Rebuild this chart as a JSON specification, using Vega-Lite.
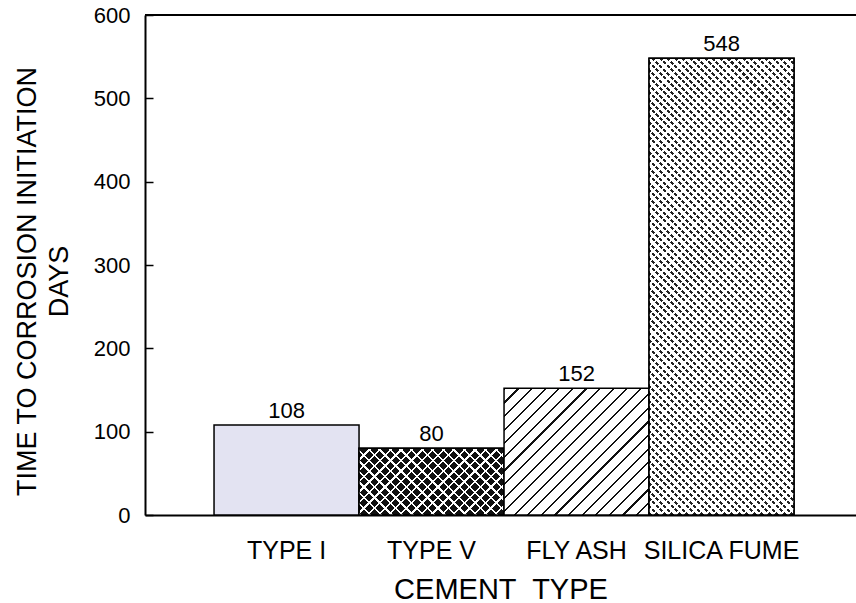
{
  "$schema": "https://vega.github.io/schema/vega-lite/v6.json",
  "width": 711,
  "height": 500,
  "autosize": {"type": "none"},
  "padding": {"left": 145, "top": 15, "right": 0, "bottom": 88},
  "background": "white",
  "config": {
    "font": "Liberation Sans",
    "view": {"stroke": null}
  },
  "data": {
    "values": [
      {"cement": "TYPE I", "days": 108},
      {"cement": "TYPE V", "days": 80},
      {"cement": "FLY ASH", "days": 152},
      {"cement": "SILICA FUME", "days": 548}
    ]
  },
  "layer": [
    {
      "encoding": {
        "x": {
          "field": "cement",
          "type": "nominal",
          "scale": {
            "domain": ["TYPE I", "TYPE V", "FLY ASH", "SILICA FUME"],
            "paddingInner": 0,
            "paddingOuter": 0.4517,
            "align": 0.527
          },
          "axis": {
            "title": "CEMENT\u00a0 TYPE",
            "titleFontSize": 29,
            "titleFontWeight": "normal",
            "titleColor": "black",
            "titleBaseline": "top",
            "titleY": 60,
            "labelAngle": 0,
            "labelFontSize": 25,
            "labelColor": "black",
            "labelPadding": 23,
            "ticks": false,
            "domainColor": "black",
            "domainWidth": 2
          }
        },
        "y": {
          "field": "days",
          "type": "quantitative",
          "scale": {"domain": [0, 600], "nice": false},
          "axis": {
            "values": [0, 100, 200, 300, 400, 500, 600],
            "grid": false,
            "title": ["TIME TO CORROSION INITIATION", "DAYS"],
            "titleFontSize": 27,
            "titleFontWeight": "normal",
            "titleColor": "black",
            "titleAngle": -90,
            "titleAlign": "center",
            "titleBaseline": "alphabetic",
            "titleLineHeight": 32,
            "titleX": -110,
            "titleY": 266,
            "labelFontSize": 22,
            "labelColor": "black",
            "labelPadding": 23,
            "tickSize": -8,
            "tickColor": "black",
            "tickWidth": 1.5,
            "domainColor": "black",
            "domainWidth": 2
          }
        }
      },
      "layer": [
        {
          "transform": [{"filter": "datum.cement === 'TYPE I'"}],
          "mark": {"type": "bar", "fill": "#e3e3f2", "stroke": "black", "strokeWidth": 1.5}
        },
        {
          "transform": [{"filter": "datum.cement === 'TYPE V'"}],
          "mark": {
            "type": "bar",
            "stroke": "black",
            "strokeWidth": 1.5,
            "fill": {
              "gradient": "linear", "x1": 0, "y1": 0, "x2": 1.205, "y2": 0.554,
              "stops": [
                {"offset": 0, "color": "#fff"}, {"offset": 0.011, "color": "#fff"}, {"offset": 0.011, "color": "#111"}, {"offset": 0.05, "color": "#111"},
                {"offset": 0.05, "color": "#fff"}, {"offset": 0.061, "color": "#fff"}, {"offset": 0.061, "color": "#111"}, {"offset": 0.1, "color": "#111"},
                {"offset": 0.1, "color": "#fff"}, {"offset": 0.111, "color": "#fff"}, {"offset": 0.111, "color": "#111"}, {"offset": 0.15, "color": "#111"},
                {"offset": 0.15, "color": "#fff"}, {"offset": 0.161, "color": "#fff"}, {"offset": 0.161, "color": "#111"}, {"offset": 0.2, "color": "#111"},
                {"offset": 0.2, "color": "#fff"}, {"offset": 0.211, "color": "#fff"}, {"offset": 0.211, "color": "#111"}, {"offset": 0.25, "color": "#111"},
                {"offset": 0.25, "color": "#fff"}, {"offset": 0.261, "color": "#fff"}, {"offset": 0.261, "color": "#111"}, {"offset": 0.3, "color": "#111"},
                {"offset": 0.3, "color": "#fff"}, {"offset": 0.311, "color": "#fff"}, {"offset": 0.311, "color": "#111"}, {"offset": 0.35, "color": "#111"},
                {"offset": 0.35, "color": "#fff"}, {"offset": 0.361, "color": "#fff"}, {"offset": 0.361, "color": "#111"}, {"offset": 0.4, "color": "#111"},
                {"offset": 0.4, "color": "#fff"}, {"offset": 0.411, "color": "#fff"}, {"offset": 0.411, "color": "#111"}, {"offset": 0.45, "color": "#111"},
                {"offset": 0.45, "color": "#fff"}, {"offset": 0.461, "color": "#fff"}, {"offset": 0.461, "color": "#111"}, {"offset": 0.5, "color": "#111"},
                {"offset": 0.5, "color": "#fff"}, {"offset": 0.511, "color": "#fff"}, {"offset": 0.511, "color": "#111"}, {"offset": 0.55, "color": "#111"},
                {"offset": 0.55, "color": "#fff"}, {"offset": 0.561, "color": "#fff"}, {"offset": 0.561, "color": "#111"}, {"offset": 0.6, "color": "#111"},
                {"offset": 0.6, "color": "#fff"}, {"offset": 0.611, "color": "#fff"}, {"offset": 0.611, "color": "#111"}, {"offset": 0.65, "color": "#111"},
                {"offset": 0.65, "color": "#fff"}, {"offset": 0.661, "color": "#fff"}, {"offset": 0.661, "color": "#111"}, {"offset": 0.7, "color": "#111"},
                {"offset": 0.7, "color": "#fff"}, {"offset": 0.711, "color": "#fff"}, {"offset": 0.711, "color": "#111"}, {"offset": 0.75, "color": "#111"},
                {"offset": 0.75, "color": "#fff"}, {"offset": 0.761, "color": "#fff"}, {"offset": 0.761, "color": "#111"}, {"offset": 0.8, "color": "#111"},
                {"offset": 0.8, "color": "#fff"}, {"offset": 0.811, "color": "#fff"}, {"offset": 0.811, "color": "#111"}, {"offset": 0.85, "color": "#111"},
                {"offset": 0.85, "color": "#fff"}, {"offset": 0.861, "color": "#fff"}, {"offset": 0.861, "color": "#111"}, {"offset": 0.9, "color": "#111"},
                {"offset": 0.9, "color": "#fff"}, {"offset": 0.911, "color": "#fff"}, {"offset": 0.911, "color": "#111"}, {"offset": 0.95, "color": "#111"},
                {"offset": 0.95, "color": "#fff"}, {"offset": 0.961, "color": "#fff"}, {"offset": 0.961, "color": "#111"}, {"offset": 1, "color": "#111"}
              ]
            }
          }
        },
        {
          "transform": [{"filter": "datum.cement === 'TYPE V'"}],
          "mark": {
            "type": "bar",
            "stroke": "black",
            "strokeWidth": 1.5,
            "fill": {
              "gradient": "linear", "x1": 0, "y1": 1, "x2": 1.205, "y2": 0.446,
              "stops": [
                {"offset": 0, "color": "#fff"}, {"offset": 0.011, "color": "#fff"}, {"offset": 0.011, "color": "rgba(0,0,0,0)"}, {"offset": 0.05, "color": "rgba(0,0,0,0)"},
                {"offset": 0.05, "color": "#fff"}, {"offset": 0.061, "color": "#fff"}, {"offset": 0.061, "color": "rgba(0,0,0,0)"}, {"offset": 0.1, "color": "rgba(0,0,0,0)"},
                {"offset": 0.1, "color": "#fff"}, {"offset": 0.111, "color": "#fff"}, {"offset": 0.111, "color": "rgba(0,0,0,0)"}, {"offset": 0.15, "color": "rgba(0,0,0,0)"},
                {"offset": 0.15, "color": "#fff"}, {"offset": 0.161, "color": "#fff"}, {"offset": 0.161, "color": "rgba(0,0,0,0)"}, {"offset": 0.2, "color": "rgba(0,0,0,0)"},
                {"offset": 0.2, "color": "#fff"}, {"offset": 0.211, "color": "#fff"}, {"offset": 0.211, "color": "rgba(0,0,0,0)"}, {"offset": 0.25, "color": "rgba(0,0,0,0)"},
                {"offset": 0.25, "color": "#fff"}, {"offset": 0.261, "color": "#fff"}, {"offset": 0.261, "color": "rgba(0,0,0,0)"}, {"offset": 0.3, "color": "rgba(0,0,0,0)"},
                {"offset": 0.3, "color": "#fff"}, {"offset": 0.311, "color": "#fff"}, {"offset": 0.311, "color": "rgba(0,0,0,0)"}, {"offset": 0.35, "color": "rgba(0,0,0,0)"},
                {"offset": 0.35, "color": "#fff"}, {"offset": 0.361, "color": "#fff"}, {"offset": 0.361, "color": "rgba(0,0,0,0)"}, {"offset": 0.4, "color": "rgba(0,0,0,0)"},
                {"offset": 0.4, "color": "#fff"}, {"offset": 0.411, "color": "#fff"}, {"offset": 0.411, "color": "rgba(0,0,0,0)"}, {"offset": 0.45, "color": "rgba(0,0,0,0)"},
                {"offset": 0.45, "color": "#fff"}, {"offset": 0.461, "color": "#fff"}, {"offset": 0.461, "color": "rgba(0,0,0,0)"}, {"offset": 0.5, "color": "rgba(0,0,0,0)"},
                {"offset": 0.5, "color": "#fff"}, {"offset": 0.511, "color": "#fff"}, {"offset": 0.511, "color": "rgba(0,0,0,0)"}, {"offset": 0.55, "color": "rgba(0,0,0,0)"},
                {"offset": 0.55, "color": "#fff"}, {"offset": 0.561, "color": "#fff"}, {"offset": 0.561, "color": "rgba(0,0,0,0)"}, {"offset": 0.6, "color": "rgba(0,0,0,0)"},
                {"offset": 0.6, "color": "#fff"}, {"offset": 0.611, "color": "#fff"}, {"offset": 0.611, "color": "rgba(0,0,0,0)"}, {"offset": 0.65, "color": "rgba(0,0,0,0)"},
                {"offset": 0.65, "color": "#fff"}, {"offset": 0.661, "color": "#fff"}, {"offset": 0.661, "color": "rgba(0,0,0,0)"}, {"offset": 0.7, "color": "rgba(0,0,0,0)"},
                {"offset": 0.7, "color": "#fff"}, {"offset": 0.711, "color": "#fff"}, {"offset": 0.711, "color": "rgba(0,0,0,0)"}, {"offset": 0.75, "color": "rgba(0,0,0,0)"},
                {"offset": 0.75, "color": "#fff"}, {"offset": 0.761, "color": "#fff"}, {"offset": 0.761, "color": "rgba(0,0,0,0)"}, {"offset": 0.8, "color": "rgba(0,0,0,0)"},
                {"offset": 0.8, "color": "#fff"}, {"offset": 0.811, "color": "#fff"}, {"offset": 0.811, "color": "rgba(0,0,0,0)"}, {"offset": 0.85, "color": "rgba(0,0,0,0)"},
                {"offset": 0.85, "color": "#fff"}, {"offset": 0.861, "color": "#fff"}, {"offset": 0.861, "color": "rgba(0,0,0,0)"}, {"offset": 0.9, "color": "rgba(0,0,0,0)"},
                {"offset": 0.9, "color": "#fff"}, {"offset": 0.911, "color": "#fff"}, {"offset": 0.911, "color": "rgba(0,0,0,0)"}, {"offset": 0.95, "color": "rgba(0,0,0,0)"},
                {"offset": 0.95, "color": "#fff"}, {"offset": 0.961, "color": "#fff"}, {"offset": 0.961, "color": "rgba(0,0,0,0)"}, {"offset": 1, "color": "rgba(0,0,0,0)"}
              ]
            }
          }
        },
        {
          "transform": [{"filter": "datum.cement === 'FLY ASH'"}],
          "mark": {
            "type": "bar",
            "stroke": "black",
            "strokeWidth": 1.5,
            "fill": {
              "gradient": "linear", "x1": 0, "y1": 0, "x2": 1.0625, "y2": 0.9284,
              "stops": [
                {"offset": 0, "color": "#111"}, {"offset": 0.008, "color": "#111"}, {"offset": 0.008, "color": "#fff"}, {"offset": 0.05, "color": "#fff"},
                {"offset": 0.05, "color": "#111"}, {"offset": 0.058, "color": "#111"}, {"offset": 0.058, "color": "#fff"}, {"offset": 0.1, "color": "#fff"},
                {"offset": 0.1, "color": "#111"}, {"offset": 0.108, "color": "#111"}, {"offset": 0.108, "color": "#fff"}, {"offset": 0.15, "color": "#fff"},
                {"offset": 0.15, "color": "#111"}, {"offset": 0.158, "color": "#111"}, {"offset": 0.158, "color": "#fff"}, {"offset": 0.2, "color": "#fff"},
                {"offset": 0.2, "color": "#111"}, {"offset": 0.208, "color": "#111"}, {"offset": 0.208, "color": "#fff"}, {"offset": 0.25, "color": "#fff"},
                {"offset": 0.25, "color": "#111"}, {"offset": 0.258, "color": "#111"}, {"offset": 0.258, "color": "#fff"}, {"offset": 0.3, "color": "#fff"},
                {"offset": 0.3, "color": "#111"}, {"offset": 0.308, "color": "#111"}, {"offset": 0.308, "color": "#fff"}, {"offset": 0.35, "color": "#fff"},
                {"offset": 0.35, "color": "#111"}, {"offset": 0.358, "color": "#111"}, {"offset": 0.358, "color": "#fff"}, {"offset": 0.4, "color": "#fff"},
                {"offset": 0.4, "color": "#111"}, {"offset": 0.408, "color": "#111"}, {"offset": 0.408, "color": "#fff"}, {"offset": 0.45, "color": "#fff"},
                {"offset": 0.45, "color": "#111"}, {"offset": 0.458, "color": "#111"}, {"offset": 0.458, "color": "#fff"}, {"offset": 0.5, "color": "#fff"},
                {"offset": 0.5, "color": "#111"}, {"offset": 0.508, "color": "#111"}, {"offset": 0.508, "color": "#fff"}, {"offset": 0.55, "color": "#fff"},
                {"offset": 0.55, "color": "#111"}, {"offset": 0.558, "color": "#111"}, {"offset": 0.558, "color": "#fff"}, {"offset": 0.6, "color": "#fff"},
                {"offset": 0.6, "color": "#111"}, {"offset": 0.608, "color": "#111"}, {"offset": 0.608, "color": "#fff"}, {"offset": 0.65, "color": "#fff"},
                {"offset": 0.65, "color": "#111"}, {"offset": 0.658, "color": "#111"}, {"offset": 0.658, "color": "#fff"}, {"offset": 0.7, "color": "#fff"},
                {"offset": 0.7, "color": "#111"}, {"offset": 0.708, "color": "#111"}, {"offset": 0.708, "color": "#fff"}, {"offset": 0.75, "color": "#fff"},
                {"offset": 0.75, "color": "#111"}, {"offset": 0.758, "color": "#111"}, {"offset": 0.758, "color": "#fff"}, {"offset": 0.8, "color": "#fff"},
                {"offset": 0.8, "color": "#111"}, {"offset": 0.808, "color": "#111"}, {"offset": 0.808, "color": "#fff"}, {"offset": 0.85, "color": "#fff"},
                {"offset": 0.85, "color": "#111"}, {"offset": 0.858, "color": "#111"}, {"offset": 0.858, "color": "#fff"}, {"offset": 0.9, "color": "#fff"},
                {"offset": 0.9, "color": "#111"}, {"offset": 0.908, "color": "#111"}, {"offset": 0.908, "color": "#fff"}, {"offset": 0.95, "color": "#fff"},
                {"offset": 0.95, "color": "#111"}, {"offset": 0.958, "color": "#111"}, {"offset": 0.958, "color": "#fff"}, {"offset": 1, "color": "#fff"}
              ]
            }
          }
        },
        {
          "transform": [{"filter": "datum.cement === 'SILICA FUME'"}],
          "mark": {
            "type": "bar",
            "stroke": "black",
            "strokeWidth": 1.5,
            "fill": {
              "gradient": "linear", "x1": 0, "y1": 1, "x2": 0.38, "y2": -0.1968,
              "stops": [
                {"offset": 0, "color": "#222"}, {"offset": 0.005, "color": "#222"}, {"offset": 0.005, "color": "#fff"}, {"offset": 0.0125, "color": "#fff"},
                {"offset": 0.0125, "color": "#222"}, {"offset": 0.0175, "color": "#222"}, {"offset": 0.0175, "color": "#fff"}, {"offset": 0.025, "color": "#fff"},
                {"offset": 0.025, "color": "#222"}, {"offset": 0.03, "color": "#222"}, {"offset": 0.03, "color": "#fff"}, {"offset": 0.0375, "color": "#fff"},
                {"offset": 0.0375, "color": "#222"}, {"offset": 0.0425, "color": "#222"}, {"offset": 0.0425, "color": "#fff"}, {"offset": 0.05, "color": "#fff"},
                {"offset": 0.05, "color": "#222"}, {"offset": 0.055, "color": "#222"}, {"offset": 0.055, "color": "#fff"}, {"offset": 0.0625, "color": "#fff"},
                {"offset": 0.0625, "color": "#222"}, {"offset": 0.0675, "color": "#222"}, {"offset": 0.0675, "color": "#fff"}, {"offset": 0.075, "color": "#fff"},
                {"offset": 0.075, "color": "#222"}, {"offset": 0.08, "color": "#222"}, {"offset": 0.08, "color": "#fff"}, {"offset": 0.0875, "color": "#fff"},
                {"offset": 0.0875, "color": "#222"}, {"offset": 0.0925, "color": "#222"}, {"offset": 0.0925, "color": "#fff"}, {"offset": 0.1, "color": "#fff"},
                {"offset": 0.1, "color": "#222"}, {"offset": 0.105, "color": "#222"}, {"offset": 0.105, "color": "#fff"}, {"offset": 0.1125, "color": "#fff"},
                {"offset": 0.1125, "color": "#222"}, {"offset": 0.1175, "color": "#222"}, {"offset": 0.1175, "color": "#fff"}, {"offset": 0.125, "color": "#fff"},
                {"offset": 0.125, "color": "#222"}, {"offset": 0.13, "color": "#222"}, {"offset": 0.13, "color": "#fff"}, {"offset": 0.1375, "color": "#fff"},
                {"offset": 0.1375, "color": "#222"}, {"offset": 0.1425, "color": "#222"}, {"offset": 0.1425, "color": "#fff"}, {"offset": 0.15, "color": "#fff"},
                {"offset": 0.15, "color": "#222"}, {"offset": 0.155, "color": "#222"}, {"offset": 0.155, "color": "#fff"}, {"offset": 0.1625, "color": "#fff"},
                {"offset": 0.1625, "color": "#222"}, {"offset": 0.1675, "color": "#222"}, {"offset": 0.1675, "color": "#fff"}, {"offset": 0.175, "color": "#fff"},
                {"offset": 0.175, "color": "#222"}, {"offset": 0.18, "color": "#222"}, {"offset": 0.18, "color": "#fff"}, {"offset": 0.1875, "color": "#fff"},
                {"offset": 0.1875, "color": "#222"}, {"offset": 0.1925, "color": "#222"}, {"offset": 0.1925, "color": "#fff"}, {"offset": 0.2, "color": "#fff"},
                {"offset": 0.2, "color": "#222"}, {"offset": 0.205, "color": "#222"}, {"offset": 0.205, "color": "#fff"}, {"offset": 0.2125, "color": "#fff"},
                {"offset": 0.2125, "color": "#222"}, {"offset": 0.2175, "color": "#222"}, {"offset": 0.2175, "color": "#fff"}, {"offset": 0.225, "color": "#fff"},
                {"offset": 0.225, "color": "#222"}, {"offset": 0.23, "color": "#222"}, {"offset": 0.23, "color": "#fff"}, {"offset": 0.2375, "color": "#fff"},
                {"offset": 0.2375, "color": "#222"}, {"offset": 0.2425, "color": "#222"}, {"offset": 0.2425, "color": "#fff"}, {"offset": 0.25, "color": "#fff"},
                {"offset": 0.25, "color": "#222"}, {"offset": 0.255, "color": "#222"}, {"offset": 0.255, "color": "#fff"}, {"offset": 0.2625, "color": "#fff"},
                {"offset": 0.2625, "color": "#222"}, {"offset": 0.2675, "color": "#222"}, {"offset": 0.2675, "color": "#fff"}, {"offset": 0.275, "color": "#fff"},
                {"offset": 0.275, "color": "#222"}, {"offset": 0.28, "color": "#222"}, {"offset": 0.28, "color": "#fff"}, {"offset": 0.2875, "color": "#fff"},
                {"offset": 0.2875, "color": "#222"}, {"offset": 0.2925, "color": "#222"}, {"offset": 0.2925, "color": "#fff"}, {"offset": 0.3, "color": "#fff"},
                {"offset": 0.3, "color": "#222"}, {"offset": 0.305, "color": "#222"}, {"offset": 0.305, "color": "#fff"}, {"offset": 0.3125, "color": "#fff"},
                {"offset": 0.3125, "color": "#222"}, {"offset": 0.3175, "color": "#222"}, {"offset": 0.3175, "color": "#fff"}, {"offset": 0.325, "color": "#fff"},
                {"offset": 0.325, "color": "#222"}, {"offset": 0.33, "color": "#222"}, {"offset": 0.33, "color": "#fff"}, {"offset": 0.3375, "color": "#fff"},
                {"offset": 0.3375, "color": "#222"}, {"offset": 0.3425, "color": "#222"}, {"offset": 0.3425, "color": "#fff"}, {"offset": 0.35, "color": "#fff"},
                {"offset": 0.35, "color": "#222"}, {"offset": 0.355, "color": "#222"}, {"offset": 0.355, "color": "#fff"}, {"offset": 0.3625, "color": "#fff"},
                {"offset": 0.3625, "color": "#222"}, {"offset": 0.3675, "color": "#222"}, {"offset": 0.3675, "color": "#fff"}, {"offset": 0.375, "color": "#fff"},
                {"offset": 0.375, "color": "#222"}, {"offset": 0.38, "color": "#222"}, {"offset": 0.38, "color": "#fff"}, {"offset": 0.3875, "color": "#fff"},
                {"offset": 0.3875, "color": "#222"}, {"offset": 0.3925, "color": "#222"}, {"offset": 0.3925, "color": "#fff"}, {"offset": 0.4, "color": "#fff"},
                {"offset": 0.4, "color": "#222"}, {"offset": 0.405, "color": "#222"}, {"offset": 0.405, "color": "#fff"}, {"offset": 0.4125, "color": "#fff"},
                {"offset": 0.4125, "color": "#222"}, {"offset": 0.4175, "color": "#222"}, {"offset": 0.4175, "color": "#fff"}, {"offset": 0.425, "color": "#fff"},
                {"offset": 0.425, "color": "#222"}, {"offset": 0.43, "color": "#222"}, {"offset": 0.43, "color": "#fff"}, {"offset": 0.4375, "color": "#fff"},
                {"offset": 0.4375, "color": "#222"}, {"offset": 0.4425, "color": "#222"}, {"offset": 0.4425, "color": "#fff"}, {"offset": 0.45, "color": "#fff"},
                {"offset": 0.45, "color": "#222"}, {"offset": 0.455, "color": "#222"}, {"offset": 0.455, "color": "#fff"}, {"offset": 0.4625, "color": "#fff"},
                {"offset": 0.4625, "color": "#222"}, {"offset": 0.4675, "color": "#222"}, {"offset": 0.4675, "color": "#fff"}, {"offset": 0.475, "color": "#fff"},
                {"offset": 0.475, "color": "#222"}, {"offset": 0.48, "color": "#222"}, {"offset": 0.48, "color": "#fff"}, {"offset": 0.4875, "color": "#fff"},
                {"offset": 0.4875, "color": "#222"}, {"offset": 0.4925, "color": "#222"}, {"offset": 0.4925, "color": "#fff"}, {"offset": 0.5, "color": "#fff"},
                {"offset": 0.5, "color": "#222"}, {"offset": 0.505, "color": "#222"}, {"offset": 0.505, "color": "#fff"}, {"offset": 0.5125, "color": "#fff"},
                {"offset": 0.5125, "color": "#222"}, {"offset": 0.5175, "color": "#222"}, {"offset": 0.5175, "color": "#fff"}, {"offset": 0.525, "color": "#fff"},
                {"offset": 0.525, "color": "#222"}, {"offset": 0.53, "color": "#222"}, {"offset": 0.53, "color": "#fff"}, {"offset": 0.5375, "color": "#fff"},
                {"offset": 0.5375, "color": "#222"}, {"offset": 0.5425, "color": "#222"}, {"offset": 0.5425, "color": "#fff"}, {"offset": 0.55, "color": "#fff"},
                {"offset": 0.55, "color": "#222"}, {"offset": 0.555, "color": "#222"}, {"offset": 0.555, "color": "#fff"}, {"offset": 0.5625, "color": "#fff"},
                {"offset": 0.5625, "color": "#222"}, {"offset": 0.5675, "color": "#222"}, {"offset": 0.5675, "color": "#fff"}, {"offset": 0.575, "color": "#fff"},
                {"offset": 0.575, "color": "#222"}, {"offset": 0.58, "color": "#222"}, {"offset": 0.58, "color": "#fff"}, {"offset": 0.5875, "color": "#fff"},
                {"offset": 0.5875, "color": "#222"}, {"offset": 0.5925, "color": "#222"}, {"offset": 0.5925, "color": "#fff"}, {"offset": 0.6, "color": "#fff"},
                {"offset": 0.6, "color": "#222"}, {"offset": 0.605, "color": "#222"}, {"offset": 0.605, "color": "#fff"}, {"offset": 0.6125, "color": "#fff"},
                {"offset": 0.6125, "color": "#222"}, {"offset": 0.6175, "color": "#222"}, {"offset": 0.6175, "color": "#fff"}, {"offset": 0.625, "color": "#fff"},
                {"offset": 0.625, "color": "#222"}, {"offset": 0.63, "color": "#222"}, {"offset": 0.63, "color": "#fff"}, {"offset": 0.6375, "color": "#fff"},
                {"offset": 0.6375, "color": "#222"}, {"offset": 0.6425, "color": "#222"}, {"offset": 0.6425, "color": "#fff"}, {"offset": 0.65, "color": "#fff"},
                {"offset": 0.65, "color": "#222"}, {"offset": 0.655, "color": "#222"}, {"offset": 0.655, "color": "#fff"}, {"offset": 0.6625, "color": "#fff"},
                {"offset": 0.6625, "color": "#222"}, {"offset": 0.6675, "color": "#222"}, {"offset": 0.6675, "color": "#fff"}, {"offset": 0.675, "color": "#fff"},
                {"offset": 0.675, "color": "#222"}, {"offset": 0.68, "color": "#222"}, {"offset": 0.68, "color": "#fff"}, {"offset": 0.6875, "color": "#fff"},
                {"offset": 0.6875, "color": "#222"}, {"offset": 0.6925, "color": "#222"}, {"offset": 0.6925, "color": "#fff"}, {"offset": 0.7, "color": "#fff"},
                {"offset": 0.7, "color": "#222"}, {"offset": 0.705, "color": "#222"}, {"offset": 0.705, "color": "#fff"}, {"offset": 0.7125, "color": "#fff"},
                {"offset": 0.7125, "color": "#222"}, {"offset": 0.7175, "color": "#222"}, {"offset": 0.7175, "color": "#fff"}, {"offset": 0.725, "color": "#fff"},
                {"offset": 0.725, "color": "#222"}, {"offset": 0.73, "color": "#222"}, {"offset": 0.73, "color": "#fff"}, {"offset": 0.7375, "color": "#fff"},
                {"offset": 0.7375, "color": "#222"}, {"offset": 0.7425, "color": "#222"}, {"offset": 0.7425, "color": "#fff"}, {"offset": 0.75, "color": "#fff"},
                {"offset": 0.75, "color": "#222"}, {"offset": 0.755, "color": "#222"}, {"offset": 0.755, "color": "#fff"}, {"offset": 0.7625, "color": "#fff"},
                {"offset": 0.7625, "color": "#222"}, {"offset": 0.7675, "color": "#222"}, {"offset": 0.7675, "color": "#fff"}, {"offset": 0.775, "color": "#fff"},
                {"offset": 0.775, "color": "#222"}, {"offset": 0.78, "color": "#222"}, {"offset": 0.78, "color": "#fff"}, {"offset": 0.7875, "color": "#fff"},
                {"offset": 0.7875, "color": "#222"}, {"offset": 0.7925, "color": "#222"}, {"offset": 0.7925, "color": "#fff"}, {"offset": 0.8, "color": "#fff"},
                {"offset": 0.8, "color": "#222"}, {"offset": 0.805, "color": "#222"}, {"offset": 0.805, "color": "#fff"}, {"offset": 0.8125, "color": "#fff"},
                {"offset": 0.8125, "color": "#222"}, {"offset": 0.8175, "color": "#222"}, {"offset": 0.8175, "color": "#fff"}, {"offset": 0.825, "color": "#fff"},
                {"offset": 0.825, "color": "#222"}, {"offset": 0.83, "color": "#222"}, {"offset": 0.83, "color": "#fff"}, {"offset": 0.8375, "color": "#fff"},
                {"offset": 0.8375, "color": "#222"}, {"offset": 0.8425, "color": "#222"}, {"offset": 0.8425, "color": "#fff"}, {"offset": 0.85, "color": "#fff"},
                {"offset": 0.85, "color": "#222"}, {"offset": 0.855, "color": "#222"}, {"offset": 0.855, "color": "#fff"}, {"offset": 0.8625, "color": "#fff"},
                {"offset": 0.8625, "color": "#222"}, {"offset": 0.8675, "color": "#222"}, {"offset": 0.8675, "color": "#fff"}, {"offset": 0.875, "color": "#fff"},
                {"offset": 0.875, "color": "#222"}, {"offset": 0.88, "color": "#222"}, {"offset": 0.88, "color": "#fff"}, {"offset": 0.8875, "color": "#fff"},
                {"offset": 0.8875, "color": "#222"}, {"offset": 0.8925, "color": "#222"}, {"offset": 0.8925, "color": "#fff"}, {"offset": 0.9, "color": "#fff"},
                {"offset": 0.9, "color": "#222"}, {"offset": 0.905, "color": "#222"}, {"offset": 0.905, "color": "#fff"}, {"offset": 0.9125, "color": "#fff"},
                {"offset": 0.9125, "color": "#222"}, {"offset": 0.9175, "color": "#222"}, {"offset": 0.9175, "color": "#fff"}, {"offset": 0.925, "color": "#fff"},
                {"offset": 0.925, "color": "#222"}, {"offset": 0.93, "color": "#222"}, {"offset": 0.93, "color": "#fff"}, {"offset": 0.9375, "color": "#fff"},
                {"offset": 0.9375, "color": "#222"}, {"offset": 0.9425, "color": "#222"}, {"offset": 0.9425, "color": "#fff"}, {"offset": 0.95, "color": "#fff"},
                {"offset": 0.95, "color": "#222"}, {"offset": 0.955, "color": "#222"}, {"offset": 0.955, "color": "#fff"}, {"offset": 0.9625, "color": "#fff"},
                {"offset": 0.9625, "color": "#222"}, {"offset": 0.9675, "color": "#222"}, {"offset": 0.9675, "color": "#fff"}, {"offset": 0.975, "color": "#fff"},
                {"offset": 0.975, "color": "#222"}, {"offset": 0.98, "color": "#222"}, {"offset": 0.98, "color": "#fff"}, {"offset": 0.9875, "color": "#fff"},
                {"offset": 0.9875, "color": "#222"}, {"offset": 0.9925, "color": "#222"}, {"offset": 0.9925, "color": "#fff"}, {"offset": 1, "color": "#fff"}
              ]
            }
          }
        },
        {
          "transform": [{"filter": "datum.cement === 'SILICA FUME'"}],
          "mark": {
            "type": "bar",
            "stroke": "black",
            "strokeWidth": 1.5,
            "fill": {
              "gradient": "linear", "x1": 0, "y1": 0, "x2": 0.38, "y2": 1.1968,
              "stops": [
                {"offset": 0, "color": "#fff"}, {"offset": 0.004, "color": "#fff"}, {"offset": 0.004, "color": "rgba(0,0,0,0)"}, {"offset": 0.0125, "color": "rgba(0,0,0,0)"},
                {"offset": 0.0125, "color": "#fff"}, {"offset": 0.0165, "color": "#fff"}, {"offset": 0.0165, "color": "rgba(0,0,0,0)"}, {"offset": 0.025, "color": "rgba(0,0,0,0)"},
                {"offset": 0.025, "color": "#fff"}, {"offset": 0.029, "color": "#fff"}, {"offset": 0.029, "color": "rgba(0,0,0,0)"}, {"offset": 0.0375, "color": "rgba(0,0,0,0)"},
                {"offset": 0.0375, "color": "#fff"}, {"offset": 0.0415, "color": "#fff"}, {"offset": 0.0415, "color": "rgba(0,0,0,0)"}, {"offset": 0.05, "color": "rgba(0,0,0,0)"},
                {"offset": 0.05, "color": "#fff"}, {"offset": 0.054, "color": "#fff"}, {"offset": 0.054, "color": "rgba(0,0,0,0)"}, {"offset": 0.0625, "color": "rgba(0,0,0,0)"},
                {"offset": 0.0625, "color": "#fff"}, {"offset": 0.0665, "color": "#fff"}, {"offset": 0.0665, "color": "rgba(0,0,0,0)"}, {"offset": 0.075, "color": "rgba(0,0,0,0)"},
                {"offset": 0.075, "color": "#fff"}, {"offset": 0.079, "color": "#fff"}, {"offset": 0.079, "color": "rgba(0,0,0,0)"}, {"offset": 0.0875, "color": "rgba(0,0,0,0)"},
                {"offset": 0.0875, "color": "#fff"}, {"offset": 0.0915, "color": "#fff"}, {"offset": 0.0915, "color": "rgba(0,0,0,0)"}, {"offset": 0.1, "color": "rgba(0,0,0,0)"},
                {"offset": 0.1, "color": "#fff"}, {"offset": 0.104, "color": "#fff"}, {"offset": 0.104, "color": "rgba(0,0,0,0)"}, {"offset": 0.1125, "color": "rgba(0,0,0,0)"},
                {"offset": 0.1125, "color": "#fff"}, {"offset": 0.1165, "color": "#fff"}, {"offset": 0.1165, "color": "rgba(0,0,0,0)"}, {"offset": 0.125, "color": "rgba(0,0,0,0)"},
                {"offset": 0.125, "color": "#fff"}, {"offset": 0.129, "color": "#fff"}, {"offset": 0.129, "color": "rgba(0,0,0,0)"}, {"offset": 0.1375, "color": "rgba(0,0,0,0)"},
                {"offset": 0.1375, "color": "#fff"}, {"offset": 0.1415, "color": "#fff"}, {"offset": 0.1415, "color": "rgba(0,0,0,0)"}, {"offset": 0.15, "color": "rgba(0,0,0,0)"},
                {"offset": 0.15, "color": "#fff"}, {"offset": 0.154, "color": "#fff"}, {"offset": 0.154, "color": "rgba(0,0,0,0)"}, {"offset": 0.1625, "color": "rgba(0,0,0,0)"},
                {"offset": 0.1625, "color": "#fff"}, {"offset": 0.1665, "color": "#fff"}, {"offset": 0.1665, "color": "rgba(0,0,0,0)"}, {"offset": 0.175, "color": "rgba(0,0,0,0)"},
                {"offset": 0.175, "color": "#fff"}, {"offset": 0.179, "color": "#fff"}, {"offset": 0.179, "color": "rgba(0,0,0,0)"}, {"offset": 0.1875, "color": "rgba(0,0,0,0)"},
                {"offset": 0.1875, "color": "#fff"}, {"offset": 0.1915, "color": "#fff"}, {"offset": 0.1915, "color": "rgba(0,0,0,0)"}, {"offset": 0.2, "color": "rgba(0,0,0,0)"},
                {"offset": 0.2, "color": "#fff"}, {"offset": 0.204, "color": "#fff"}, {"offset": 0.204, "color": "rgba(0,0,0,0)"}, {"offset": 0.2125, "color": "rgba(0,0,0,0)"},
                {"offset": 0.2125, "color": "#fff"}, {"offset": 0.2165, "color": "#fff"}, {"offset": 0.2165, "color": "rgba(0,0,0,0)"}, {"offset": 0.225, "color": "rgba(0,0,0,0)"},
                {"offset": 0.225, "color": "#fff"}, {"offset": 0.229, "color": "#fff"}, {"offset": 0.229, "color": "rgba(0,0,0,0)"}, {"offset": 0.2375, "color": "rgba(0,0,0,0)"},
                {"offset": 0.2375, "color": "#fff"}, {"offset": 0.2415, "color": "#fff"}, {"offset": 0.2415, "color": "rgba(0,0,0,0)"}, {"offset": 0.25, "color": "rgba(0,0,0,0)"},
                {"offset": 0.25, "color": "#fff"}, {"offset": 0.254, "color": "#fff"}, {"offset": 0.254, "color": "rgba(0,0,0,0)"}, {"offset": 0.2625, "color": "rgba(0,0,0,0)"},
                {"offset": 0.2625, "color": "#fff"}, {"offset": 0.2665, "color": "#fff"}, {"offset": 0.2665, "color": "rgba(0,0,0,0)"}, {"offset": 0.275, "color": "rgba(0,0,0,0)"},
                {"offset": 0.275, "color": "#fff"}, {"offset": 0.279, "color": "#fff"}, {"offset": 0.279, "color": "rgba(0,0,0,0)"}, {"offset": 0.2875, "color": "rgba(0,0,0,0)"},
                {"offset": 0.2875, "color": "#fff"}, {"offset": 0.2915, "color": "#fff"}, {"offset": 0.2915, "color": "rgba(0,0,0,0)"}, {"offset": 0.3, "color": "rgba(0,0,0,0)"},
                {"offset": 0.3, "color": "#fff"}, {"offset": 0.304, "color": "#fff"}, {"offset": 0.304, "color": "rgba(0,0,0,0)"}, {"offset": 0.3125, "color": "rgba(0,0,0,0)"},
                {"offset": 0.3125, "color": "#fff"}, {"offset": 0.3165, "color": "#fff"}, {"offset": 0.3165, "color": "rgba(0,0,0,0)"}, {"offset": 0.325, "color": "rgba(0,0,0,0)"},
                {"offset": 0.325, "color": "#fff"}, {"offset": 0.329, "color": "#fff"}, {"offset": 0.329, "color": "rgba(0,0,0,0)"}, {"offset": 0.3375, "color": "rgba(0,0,0,0)"},
                {"offset": 0.3375, "color": "#fff"}, {"offset": 0.3415, "color": "#fff"}, {"offset": 0.3415, "color": "rgba(0,0,0,0)"}, {"offset": 0.35, "color": "rgba(0,0,0,0)"},
                {"offset": 0.35, "color": "#fff"}, {"offset": 0.354, "color": "#fff"}, {"offset": 0.354, "color": "rgba(0,0,0,0)"}, {"offset": 0.3625, "color": "rgba(0,0,0,0)"},
                {"offset": 0.3625, "color": "#fff"}, {"offset": 0.3665, "color": "#fff"}, {"offset": 0.3665, "color": "rgba(0,0,0,0)"}, {"offset": 0.375, "color": "rgba(0,0,0,0)"},
                {"offset": 0.375, "color": "#fff"}, {"offset": 0.379, "color": "#fff"}, {"offset": 0.379, "color": "rgba(0,0,0,0)"}, {"offset": 0.3875, "color": "rgba(0,0,0,0)"},
                {"offset": 0.3875, "color": "#fff"}, {"offset": 0.3915, "color": "#fff"}, {"offset": 0.3915, "color": "rgba(0,0,0,0)"}, {"offset": 0.4, "color": "rgba(0,0,0,0)"},
                {"offset": 0.4, "color": "#fff"}, {"offset": 0.404, "color": "#fff"}, {"offset": 0.404, "color": "rgba(0,0,0,0)"}, {"offset": 0.4125, "color": "rgba(0,0,0,0)"},
                {"offset": 0.4125, "color": "#fff"}, {"offset": 0.4165, "color": "#fff"}, {"offset": 0.4165, "color": "rgba(0,0,0,0)"}, {"offset": 0.425, "color": "rgba(0,0,0,0)"},
                {"offset": 0.425, "color": "#fff"}, {"offset": 0.429, "color": "#fff"}, {"offset": 0.429, "color": "rgba(0,0,0,0)"}, {"offset": 0.4375, "color": "rgba(0,0,0,0)"},
                {"offset": 0.4375, "color": "#fff"}, {"offset": 0.4415, "color": "#fff"}, {"offset": 0.4415, "color": "rgba(0,0,0,0)"}, {"offset": 0.45, "color": "rgba(0,0,0,0)"},
                {"offset": 0.45, "color": "#fff"}, {"offset": 0.454, "color": "#fff"}, {"offset": 0.454, "color": "rgba(0,0,0,0)"}, {"offset": 0.4625, "color": "rgba(0,0,0,0)"},
                {"offset": 0.4625, "color": "#fff"}, {"offset": 0.4665, "color": "#fff"}, {"offset": 0.4665, "color": "rgba(0,0,0,0)"}, {"offset": 0.475, "color": "rgba(0,0,0,0)"},
                {"offset": 0.475, "color": "#fff"}, {"offset": 0.479, "color": "#fff"}, {"offset": 0.479, "color": "rgba(0,0,0,0)"}, {"offset": 0.4875, "color": "rgba(0,0,0,0)"},
                {"offset": 0.4875, "color": "#fff"}, {"offset": 0.4915, "color": "#fff"}, {"offset": 0.4915, "color": "rgba(0,0,0,0)"}, {"offset": 0.5, "color": "rgba(0,0,0,0)"},
                {"offset": 0.5, "color": "#fff"}, {"offset": 0.504, "color": "#fff"}, {"offset": 0.504, "color": "rgba(0,0,0,0)"}, {"offset": 0.5125, "color": "rgba(0,0,0,0)"},
                {"offset": 0.5125, "color": "#fff"}, {"offset": 0.5165, "color": "#fff"}, {"offset": 0.5165, "color": "rgba(0,0,0,0)"}, {"offset": 0.525, "color": "rgba(0,0,0,0)"},
                {"offset": 0.525, "color": "#fff"}, {"offset": 0.529, "color": "#fff"}, {"offset": 0.529, "color": "rgba(0,0,0,0)"}, {"offset": 0.5375, "color": "rgba(0,0,0,0)"},
                {"offset": 0.5375, "color": "#fff"}, {"offset": 0.5415, "color": "#fff"}, {"offset": 0.5415, "color": "rgba(0,0,0,0)"}, {"offset": 0.55, "color": "rgba(0,0,0,0)"},
                {"offset": 0.55, "color": "#fff"}, {"offset": 0.554, "color": "#fff"}, {"offset": 0.554, "color": "rgba(0,0,0,0)"}, {"offset": 0.5625, "color": "rgba(0,0,0,0)"},
                {"offset": 0.5625, "color": "#fff"}, {"offset": 0.5665, "color": "#fff"}, {"offset": 0.5665, "color": "rgba(0,0,0,0)"}, {"offset": 0.575, "color": "rgba(0,0,0,0)"},
                {"offset": 0.575, "color": "#fff"}, {"offset": 0.579, "color": "#fff"}, {"offset": 0.579, "color": "rgba(0,0,0,0)"}, {"offset": 0.5875, "color": "rgba(0,0,0,0)"},
                {"offset": 0.5875, "color": "#fff"}, {"offset": 0.5915, "color": "#fff"}, {"offset": 0.5915, "color": "rgba(0,0,0,0)"}, {"offset": 0.6, "color": "rgba(0,0,0,0)"},
                {"offset": 0.6, "color": "#fff"}, {"offset": 0.604, "color": "#fff"}, {"offset": 0.604, "color": "rgba(0,0,0,0)"}, {"offset": 0.6125, "color": "rgba(0,0,0,0)"},
                {"offset": 0.6125, "color": "#fff"}, {"offset": 0.6165, "color": "#fff"}, {"offset": 0.6165, "color": "rgba(0,0,0,0)"}, {"offset": 0.625, "color": "rgba(0,0,0,0)"},
                {"offset": 0.625, "color": "#fff"}, {"offset": 0.629, "color": "#fff"}, {"offset": 0.629, "color": "rgba(0,0,0,0)"}, {"offset": 0.6375, "color": "rgba(0,0,0,0)"},
                {"offset": 0.6375, "color": "#fff"}, {"offset": 0.6415, "color": "#fff"}, {"offset": 0.6415, "color": "rgba(0,0,0,0)"}, {"offset": 0.65, "color": "rgba(0,0,0,0)"},
                {"offset": 0.65, "color": "#fff"}, {"offset": 0.654, "color": "#fff"}, {"offset": 0.654, "color": "rgba(0,0,0,0)"}, {"offset": 0.6625, "color": "rgba(0,0,0,0)"},
                {"offset": 0.6625, "color": "#fff"}, {"offset": 0.6665, "color": "#fff"}, {"offset": 0.6665, "color": "rgba(0,0,0,0)"}, {"offset": 0.675, "color": "rgba(0,0,0,0)"},
                {"offset": 0.675, "color": "#fff"}, {"offset": 0.679, "color": "#fff"}, {"offset": 0.679, "color": "rgba(0,0,0,0)"}, {"offset": 0.6875, "color": "rgba(0,0,0,0)"},
                {"offset": 0.6875, "color": "#fff"}, {"offset": 0.6915, "color": "#fff"}, {"offset": 0.6915, "color": "rgba(0,0,0,0)"}, {"offset": 0.7, "color": "rgba(0,0,0,0)"},
                {"offset": 0.7, "color": "#fff"}, {"offset": 0.704, "color": "#fff"}, {"offset": 0.704, "color": "rgba(0,0,0,0)"}, {"offset": 0.7125, "color": "rgba(0,0,0,0)"},
                {"offset": 0.7125, "color": "#fff"}, {"offset": 0.7165, "color": "#fff"}, {"offset": 0.7165, "color": "rgba(0,0,0,0)"}, {"offset": 0.725, "color": "rgba(0,0,0,0)"},
                {"offset": 0.725, "color": "#fff"}, {"offset": 0.729, "color": "#fff"}, {"offset": 0.729, "color": "rgba(0,0,0,0)"}, {"offset": 0.7375, "color": "rgba(0,0,0,0)"},
                {"offset": 0.7375, "color": "#fff"}, {"offset": 0.7415, "color": "#fff"}, {"offset": 0.7415, "color": "rgba(0,0,0,0)"}, {"offset": 0.75, "color": "rgba(0,0,0,0)"},
                {"offset": 0.75, "color": "#fff"}, {"offset": 0.754, "color": "#fff"}, {"offset": 0.754, "color": "rgba(0,0,0,0)"}, {"offset": 0.7625, "color": "rgba(0,0,0,0)"},
                {"offset": 0.7625, "color": "#fff"}, {"offset": 0.7665, "color": "#fff"}, {"offset": 0.7665, "color": "rgba(0,0,0,0)"}, {"offset": 0.775, "color": "rgba(0,0,0,0)"},
                {"offset": 0.775, "color": "#fff"}, {"offset": 0.779, "color": "#fff"}, {"offset": 0.779, "color": "rgba(0,0,0,0)"}, {"offset": 0.7875, "color": "rgba(0,0,0,0)"},
                {"offset": 0.7875, "color": "#fff"}, {"offset": 0.7915, "color": "#fff"}, {"offset": 0.7915, "color": "rgba(0,0,0,0)"}, {"offset": 0.8, "color": "rgba(0,0,0,0)"},
                {"offset": 0.8, "color": "#fff"}, {"offset": 0.804, "color": "#fff"}, {"offset": 0.804, "color": "rgba(0,0,0,0)"}, {"offset": 0.8125, "color": "rgba(0,0,0,0)"},
                {"offset": 0.8125, "color": "#fff"}, {"offset": 0.8165, "color": "#fff"}, {"offset": 0.8165, "color": "rgba(0,0,0,0)"}, {"offset": 0.825, "color": "rgba(0,0,0,0)"},
                {"offset": 0.825, "color": "#fff"}, {"offset": 0.829, "color": "#fff"}, {"offset": 0.829, "color": "rgba(0,0,0,0)"}, {"offset": 0.8375, "color": "rgba(0,0,0,0)"},
                {"offset": 0.8375, "color": "#fff"}, {"offset": 0.8415, "color": "#fff"}, {"offset": 0.8415, "color": "rgba(0,0,0,0)"}, {"offset": 0.85, "color": "rgba(0,0,0,0)"},
                {"offset": 0.85, "color": "#fff"}, {"offset": 0.854, "color": "#fff"}, {"offset": 0.854, "color": "rgba(0,0,0,0)"}, {"offset": 0.8625, "color": "rgba(0,0,0,0)"},
                {"offset": 0.8625, "color": "#fff"}, {"offset": 0.8665, "color": "#fff"}, {"offset": 0.8665, "color": "rgba(0,0,0,0)"}, {"offset": 0.875, "color": "rgba(0,0,0,0)"},
                {"offset": 0.875, "color": "#fff"}, {"offset": 0.879, "color": "#fff"}, {"offset": 0.879, "color": "rgba(0,0,0,0)"}, {"offset": 0.8875, "color": "rgba(0,0,0,0)"},
                {"offset": 0.8875, "color": "#fff"}, {"offset": 0.8915, "color": "#fff"}, {"offset": 0.8915, "color": "rgba(0,0,0,0)"}, {"offset": 0.9, "color": "rgba(0,0,0,0)"},
                {"offset": 0.9, "color": "#fff"}, {"offset": 0.904, "color": "#fff"}, {"offset": 0.904, "color": "rgba(0,0,0,0)"}, {"offset": 0.9125, "color": "rgba(0,0,0,0)"},
                {"offset": 0.9125, "color": "#fff"}, {"offset": 0.9165, "color": "#fff"}, {"offset": 0.9165, "color": "rgba(0,0,0,0)"}, {"offset": 0.925, "color": "rgba(0,0,0,0)"},
                {"offset": 0.925, "color": "#fff"}, {"offset": 0.929, "color": "#fff"}, {"offset": 0.929, "color": "rgba(0,0,0,0)"}, {"offset": 0.9375, "color": "rgba(0,0,0,0)"},
                {"offset": 0.9375, "color": "#fff"}, {"offset": 0.9415, "color": "#fff"}, {"offset": 0.9415, "color": "rgba(0,0,0,0)"}, {"offset": 0.95, "color": "rgba(0,0,0,0)"},
                {"offset": 0.95, "color": "#fff"}, {"offset": 0.954, "color": "#fff"}, {"offset": 0.954, "color": "rgba(0,0,0,0)"}, {"offset": 0.9625, "color": "rgba(0,0,0,0)"},
                {"offset": 0.9625, "color": "#fff"}, {"offset": 0.9665, "color": "#fff"}, {"offset": 0.9665, "color": "rgba(0,0,0,0)"}, {"offset": 0.975, "color": "rgba(0,0,0,0)"},
                {"offset": 0.975, "color": "#fff"}, {"offset": 0.979, "color": "#fff"}, {"offset": 0.979, "color": "rgba(0,0,0,0)"}, {"offset": 0.9875, "color": "rgba(0,0,0,0)"},
                {"offset": 0.9875, "color": "#fff"}, {"offset": 0.9915, "color": "#fff"}, {"offset": 0.9915, "color": "rgba(0,0,0,0)"}, {"offset": 1, "color": "rgba(0,0,0,0)"}
              ]
            }
          }
        },
        {
          "mark": {"type": "text", "baseline": "alphabetic", "align": "center", "dy": -7, "fontSize": 22, "color": "black"},
          "encoding": {"text": {"field": "days", "type": "quantitative"}}
        }
      ]
    },
    {
      "mark": {"type": "rule", "color": "black", "strokeWidth": 2},
      "encoding": {"y": {"datum": 600, "type": "quantitative"}}
    }
  ]
}
